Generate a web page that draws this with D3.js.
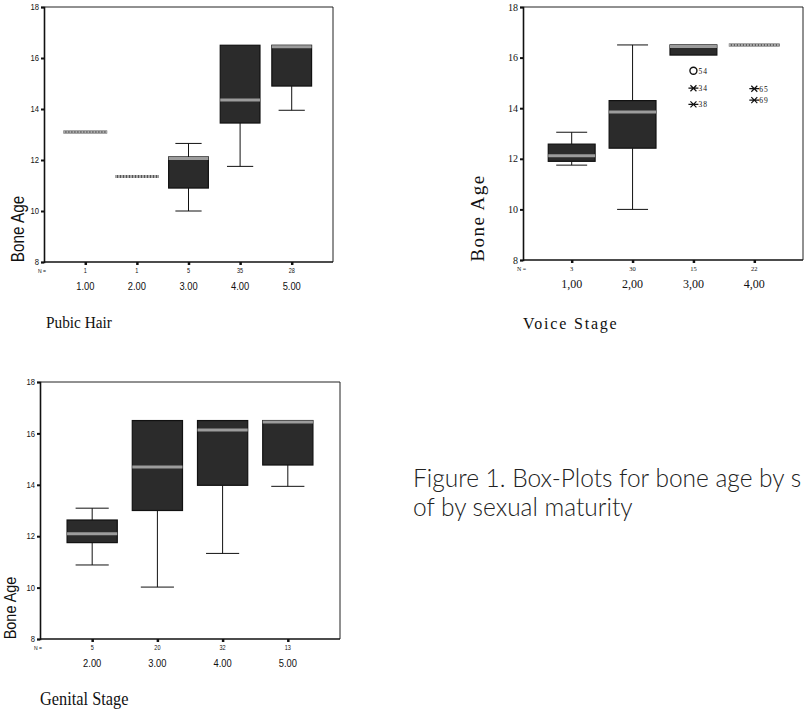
<!DOCTYPE html>
<html>
<head>
<meta charset="utf-8">
<script src="https://cdn.jsdelivr.net/npm/d3@7"></script>
<style>
  body { margin: 0; background: #fff; }
  svg { display: block; }
</style>
</head>
<body>
<svg id="chart" width="805" height="710"></svg>
<script>
// Pubic hair panel
const pubicCats = ['1.00', '2.00', '3.00', '4.00', '5.00'];
const pubicN = [1, 1, 5, 35, 28];
const pubicLow = [13.1, 11.35, 10.0, 11.75, 13.95];
const pubicQ1 = [13.1, 11.35, 10.9, 13.45, 14.9];
const pubicMed = [13.1, 11.35, 12.07, 14.35, 16.5];
const pubicQ3 = [13.1, 11.35, 12.12, 16.5, 16.5];
const pubicHigh = [13.1, 11.35, 12.65, 16.5, 16.5];

// Voice stage panel
const voiceCats = ['1,00', '2,00', '3,00', '4,00'];
const voiceN = [3, 30, 15, 22];
const voiceLow = [11.75, 10.0, 16.1, 16.5];
const voiceQ1 = [11.9, 12.42, 16.1, 16.5];
const voiceMed = [12.12, 13.85, 16.5, 16.5];
const voiceQ3 = [12.58, 14.3, 16.5, 16.5];
const voiceHigh = [13.05, 16.5, 16.5, 16.5];
// outliers: category index, value, label, type
const voiceOutCat = [2, 2, 2, 3, 3];
const voiceOutVal = [15.48, 14.79, 14.15, 14.77, 14.32];
const voiceOutLab = ['54', '34', '38', '65', '69'];
const voiceOutType = ['o', '*', '*', '*', '*'];

// Genital stage panel
const genitalCats = ['2.00', '3.00', '4.00', '5.00'];
const genitalN = [5, 20, 32, 13];
const genitalLow = [10.88, 10.02, 11.33, 13.94];
const genitalQ1 = [11.75, 13.0, 13.98, 14.77];
const genitalMed = [12.1, 14.69, 16.13, 16.5];
const genitalQ3 = [12.63, 16.5, 16.5, 16.5];
const genitalHigh = [13.09, 16.5, 16.5, 16.5];

const yTicks = [8, 10, 12, 14, 16, 18];

const svg = d3.select('#chart');

const NARROW = "'Liberation Sans Narrow', 'Arial Narrow', 'Liberation Sans', Arial, sans-serif";
const SERIF = "'Liberation Serif', 'Times New Roman', serif";

// text with optional horizontal squeeze
function label(g, x, y, txt, size, family, anchor, sx, extra) {
  const t = g.append('g')
    .attr('transform', `translate(${x},${y}) scale(${sx || 1},1)`)
    .append('text')
    .attr('text-anchor', anchor || 'start')
    .attr('font-family', family)
    .attr('font-size', size)
    .attr('fill', '#111')
    .text(txt);
  if (extra) extra(t);
  return t;
}

function drawPanel(p) {
  const g = svg.append('g');
  const x = d3.scalePoint().domain(p.cats).range([p.x0, p.x1]).padding(0.8);
  const y = d3.scaleLinear().domain([8, 18]).range([p.y1, p.y0]);
  const bw = x.step() * 0.77;
  const cw = bw * 0.66;

  // frame top + right
  g.append('path')
    .attr('d', `M${p.x0},${p.y0}H${p.x1}V${p.y1}`)
    .attr('fill', 'none').attr('stroke', '#222').attr('stroke-width', 1);

  // axes
  const ya = g.append('g').attr('transform', `translate(${p.x0},0)`)
    .call(d3.axisLeft(y).tickValues(yTicks).tickSize(3).tickPadding(3).tickFormat(d3.format('d')));
  ya.select('.domain').attr('stroke', '#111').attr('stroke-width', 1.6);
  ya.selectAll('.tick line').attr('stroke', '#111').attr('stroke-width', 2);
  ya.selectAll('.tick text').remove();
  yTicks.forEach(v => {
    label(g, p.x0 - 5, y(v) + p.ytSize * 0.35, v, p.ytSize, p.tickFont, 'end', p.sq);
  });

  const xa = g.append('g').attr('transform', `translate(0,${p.y1})`)
    .call(d3.axisBottom(x).tickSize(3).tickPadding(3));
  xa.select('.domain').attr('stroke', '#111').attr('stroke-width', 1.6)
    .attr('d', `M${p.x0},0H${p.x1}`);
  xa.selectAll('.tick line').attr('stroke', '#111').attr('stroke-width', 2.5);
  xa.selectAll('.tick text').remove();

  // N labels and category labels
  label(g, p.x0 - 6, p.y1 + 11, 'N =', 6, p.tickFont, 'start', p.sq);
  p.cats.forEach((c, i) => {
    label(g, x(c), p.y1 + 11, p.n[i], 6.5, p.tickFont, 'middle', p.sq);
    label(g, x(c), p.y1 + 28, c, p.catSize, p.tickFont, 'middle', p.sq);
  });

  // boxes
  p.cats.forEach((c, i) => {
    const cx = x(c);
    const lo = p.low[i], q1 = p.q1[i], md = p.med[i], q3 = p.q3[i], hi = p.high[i];
    if (lo === hi) {
      // single value: dotted grey line
      g.append('line').attr('x1', cx - bw / 2 - 2).attr('x2', cx + bw / 2 + 2)
        .attr('y1', y(md)).attr('y2', y(md))
        .attr('stroke', '#555').attr('stroke-width', 3);
      g.append('line').attr('x1', cx - bw / 2 - 2).attr('x2', cx + bw / 2 + 2)
        .attr('y1', y(md)).attr('y2', y(md))
        .attr('stroke', '#a8a8a8').attr('stroke-width', 3)
        .attr('stroke-dasharray', '2,1');
      return;
    }
    // whiskers
    if (hi > q3) {
      g.append('line').attr('x1', cx).attr('x2', cx).attr('y1', y(hi)).attr('y2', y(q3)).attr('stroke', '#111');
      g.append('line').attr('x1', cx - cw / 2).attr('x2', cx + cw / 2).attr('y1', y(hi)).attr('y2', y(hi)).attr('stroke', '#111');
    }
    if (lo < q1) {
      g.append('line').attr('x1', cx).attr('x2', cx).attr('y1', y(q1)).attr('y2', y(lo)).attr('stroke', '#111');
      g.append('line').attr('x1', cx - cw / 2).attr('x2', cx + cw / 2).attr('y1', y(lo)).attr('y2', y(lo)).attr('stroke', '#111');
    }
    g.append('rect')
      .attr('x', cx - bw / 2).attr('y', y(q3))
      .attr('width', bw).attr('height', y(q1) - y(q3))
      .attr('fill', '#2b2b2b').attr('stroke', '#111').attr('stroke-width', 1.2);
    g.append('line').attr('x1', cx - bw / 2).attr('x2', cx + bw / 2)
      .attr('y1', Math.max(y(md), y(q3) + 1.5)).attr('y2', Math.max(y(md), y(q3) + 1.5))
      .attr('stroke', '#9c9c9c').attr('stroke-width', 3);
  });

  // outliers
  if (p.outCat) {
    p.outCat.forEach((ci, k) => {
      const cx = x(p.cats[ci]);
      const cy = y(p.outVal[k]);
      if (p.outType[k] === 'o') {
        g.append('circle').attr('cx', cx).attr('cy', cy).attr('r', 3.5)
          .attr('fill', 'none').attr('stroke', '#111').attr('stroke-width', 1.4);
      } else {
        g.append('path')
          .attr('d', `M${cx - 5},${cy}H${cx + 5}M${cx - 3},${cy - 3}L${cx + 3},${cy + 3}M${cx - 3},${cy + 3}L${cx + 3},${cy - 3}`)
          .attr('stroke', '#111').attr('stroke-width', 1.2);
      }
      label(g, cx + 5, cy + 3, p.outLab[k], 7.5, SERIF, 'start', 1,
        t => t.attr('letter-spacing', 1));
    });
  }

  // y axis title
  g.append('text')
    .attr('transform', `translate(${p.ytx},${p.yty}) rotate(-90) scale(${p.ylSq},1)`)
    .attr('text-anchor', 'middle')
    .attr('font-family', p.ylFont)
    .attr('font-size', p.ylSize)
    .attr('fill', '#111')
    .attr('letter-spacing', p.ylSpacing || 0)
    .text('Bone Age');

  // panel title below
  label(g, p.tx, p.ty, p.title, p.tSize, SERIF, 'start', p.tSq,
    t => t.attr('letter-spacing', p.tSpacing || 0));
}

drawPanel({
  cats: pubicCats, n: pubicN, low: pubicLow, q1: pubicQ1, med: pubicMed, q3: pubicQ3, high: pubicHigh,
  x0: 44, x1: 333, y0: 7, y1: 262,
  tickFont: NARROW, ytSize: 9, catSize: 11, sq: 0.85,
  ylFont: NARROW, ylSize: 18, ylSq: 0.85, ytx: 24, yty: 229,
  title: 'Pubic Hair', tx: 46, ty: 328, tSize: 17, tSq: 0.9
});

drawPanel({
  cats: voiceCats, n: voiceN, low: voiceLow, q1: voiceQ1, med: voiceMed, q3: voiceQ3, high: voiceHigh,
  outCat: voiceOutCat, outVal: voiceOutVal, outLab: voiceOutLab, outType: voiceOutType,
  x0: 523, x1: 803, y0: 7, y1: 260,
  tickFont: SERIF, ytSize: 10, catSize: 12, sq: 1,
  ylFont: SERIF, ylSize: 19, ylSq: 1, ylSpacing: 1.5, ytx: 484, yty: 218,
  title: 'Voice Stage', tx: 523, ty: 329, tSize: 16, tSq: 1, tSpacing: 1.8
});

drawPanel({
  cats: genitalCats, n: genitalN, low: genitalLow, q1: genitalQ1, med: genitalMed, q3: genitalQ3, high: genitalHigh,
  x0: 40, x1: 340, y0: 382, y1: 639,
  tickFont: NARROW, ytSize: 9, catSize: 11, sq: 0.85,
  ylFont: NARROW, ylSize: 17, ylSq: 0.85, ytx: 16, yty: 608,
  title: 'Genital Stage', tx: 40, ty: 705, tSize: 19, tSq: 0.86
});

// figure caption (the reference crops the first line at the page edge)
const captionLines = ['Figure 1. Box-Plots for bone age by s', 'of by sexual maturity'];
captionLines.forEach((line, i) => {
  svg.append('text')
    .attr('x', 413).attr('y', 487 + i * 29)
    .attr('font-family', "Lato, 'Open Sans', sans-serif")
    .attr('font-weight', 300)
    .attr('font-size', 24.5)
    .attr('fill', '#222')
    .text(line);
});
</script>
</body>
</html>
